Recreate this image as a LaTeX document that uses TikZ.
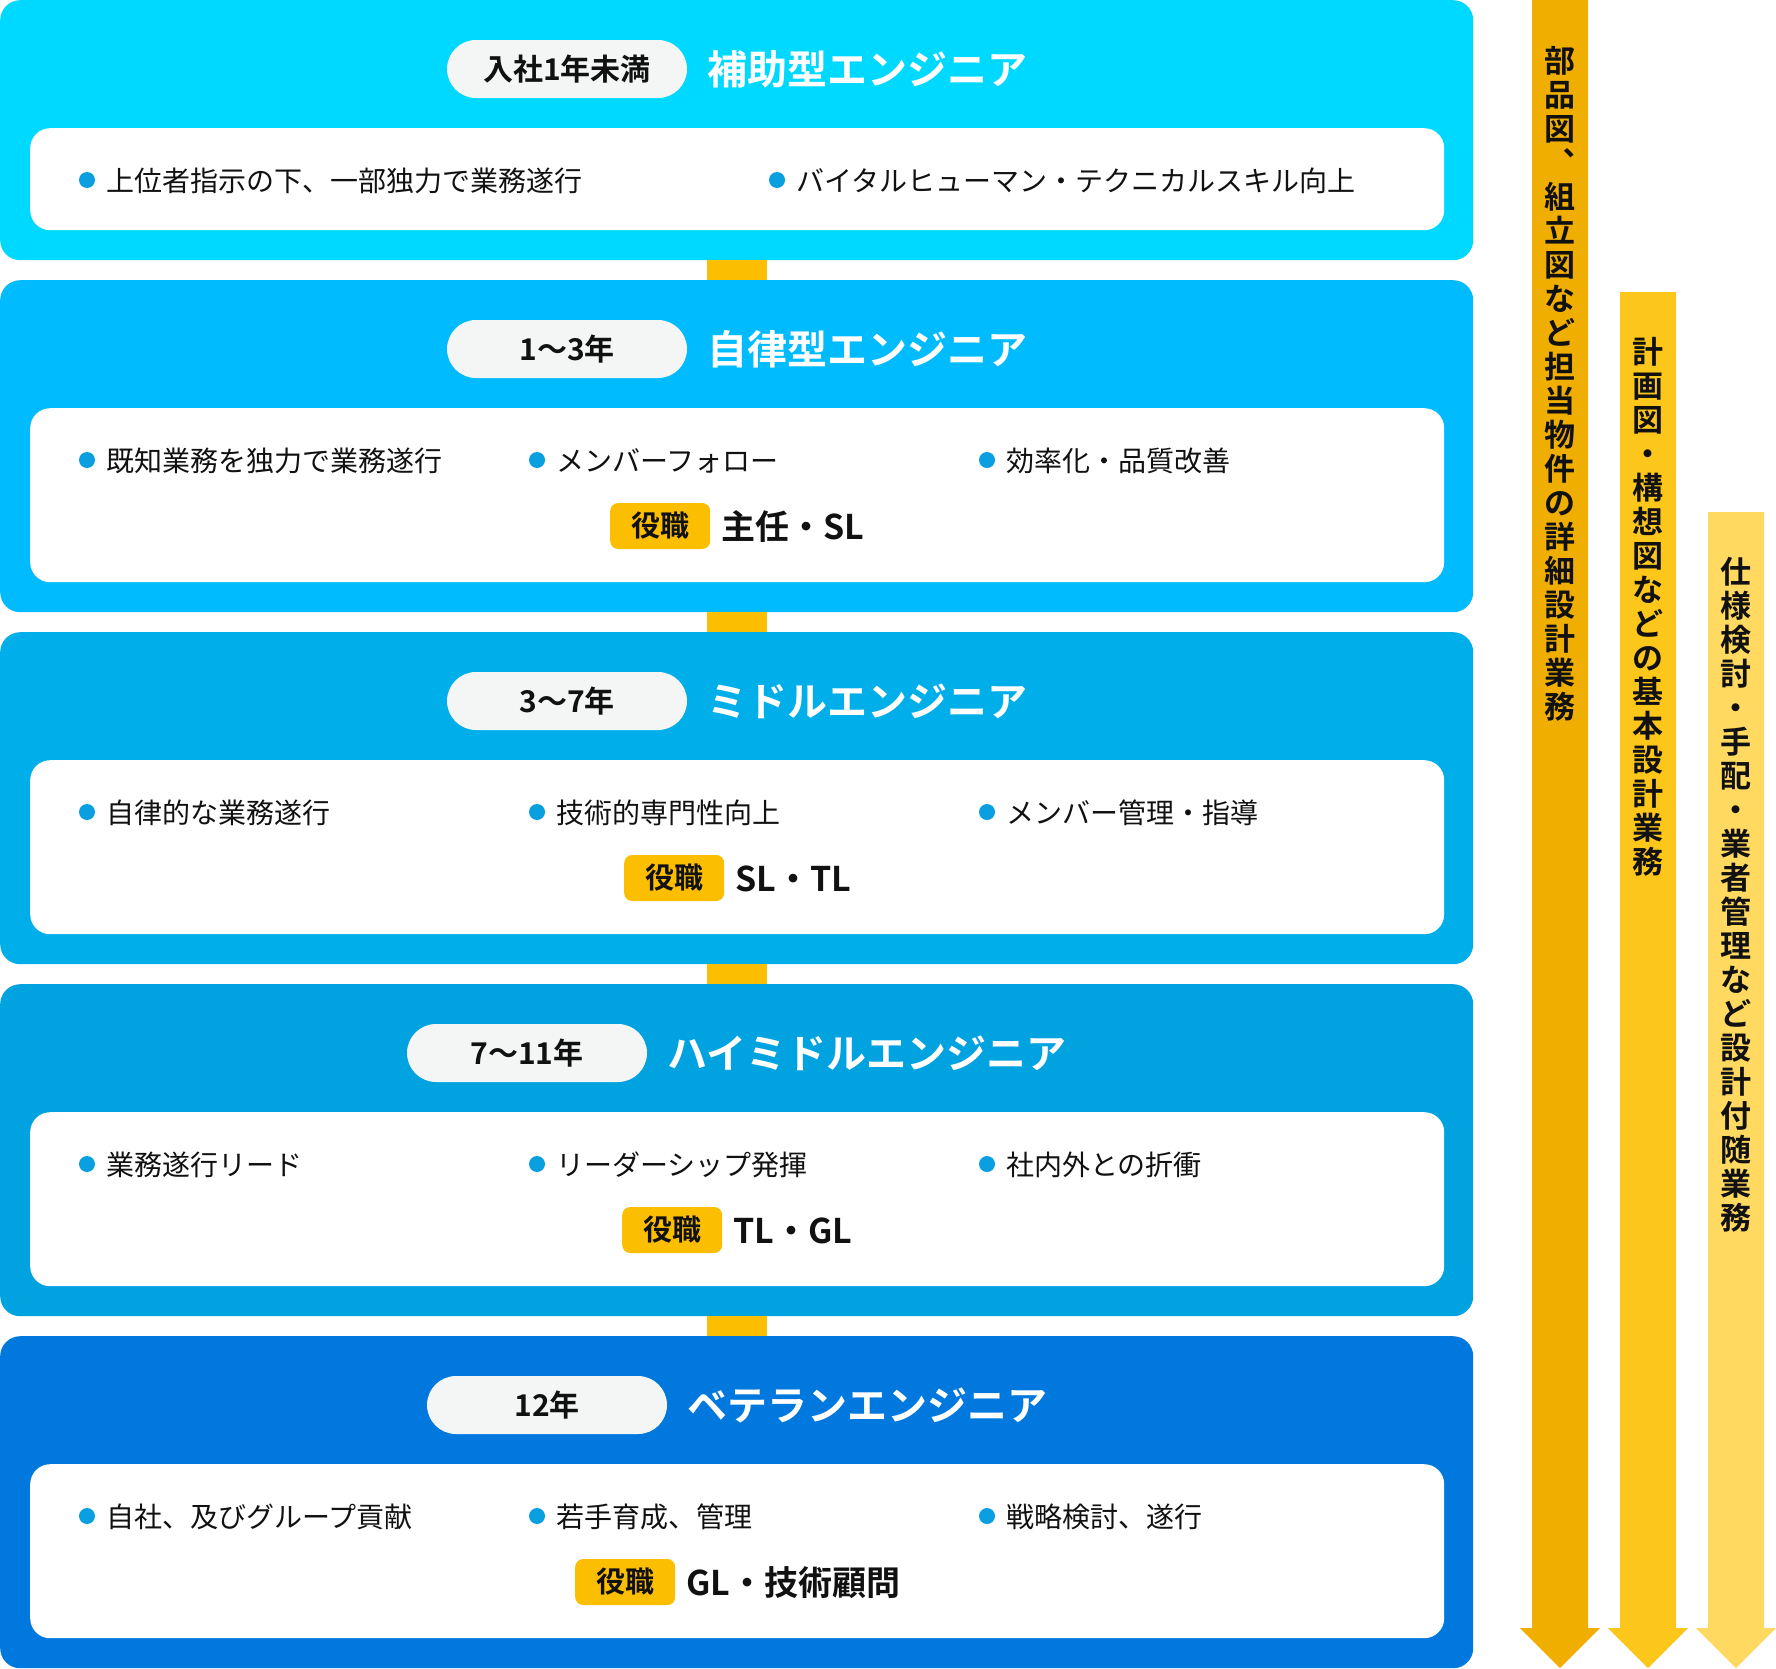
\documentclass[tikz,border=0pt]{standalone}
\usepackage{fontspec}
\setmainfont{Noto Sans CJK JP}[BoldFont={Noto Sans CJK JP Bold}]
\usetikzlibrary{calc}
\definecolor{cA}{HTML}{00D9FF}
\definecolor{cB}{HTML}{00BCFF}
\definecolor{cC}{HTML}{00AEEA}
\definecolor{cD}{HTML}{00A2DF}
\definecolor{cE}{HTML}{0078DD}
\definecolor{pillgray}{HTML}{F4F6F6}
\definecolor{gold}{HTML}{FBBE00}
\definecolor{dotblue}{HTML}{0A9FE0}
\definecolor{arA}{HTML}{F0AF00}
\definecolor{arB}{HTML}{FCC71A}
\definecolor{arC}{HTML}{FFD960}
\definecolor{ink}{HTML}{111111}
\begin{document}
\begin{tikzpicture}[x=1pt,y=-1pt,
  stage/.style={rounded corners=20pt, minimum width=1473pt, anchor=north west, inner sep=0pt, draw=none},
  panel/.style={fill=white, rounded corners=20pt, minimum width=1414pt, anchor=north west, inner sep=0pt},
  pill/.style={fill=pillgray, rounded corners=29pt, minimum width=240pt, minimum height=58pt, inner sep=0pt, text=ink, font=\bfseries\fontsize{30pt}{36pt}\selectfont},
  title/.style={anchor=west, inner sep=0pt, text=white, font=\bfseries\fontsize{40pt}{48pt}\selectfont},
  dot/.style={circle, fill=dotblue, minimum size=16pt, inner sep=0pt},
  item/.style={anchor=west, inner sep=0pt, text=ink, font=\fontsize{28pt}{34pt}\selectfont},
  badge/.style={anchor=west, fill=gold, rounded corners=8pt, minimum width=100pt, minimum height=46pt, inner sep=0pt, text=ink, font=\bfseries\fontsize{29pt}{34pt}\selectfont},
  role/.style={anchor=west, inner sep=0pt, text=ink, font=\bfseries\fontsize{34pt}{40pt}\selectfont},
  conn/.style={draw=gold, line width=60pt},
  vtext/.style={anchor=north, inner sep=0pt, align=center, text=ink, font=\bfseries\fontsize{31pt}{34pt}\selectfont}
]
\useasboundingbox (0,0) rectangle (1776,1668);

% stages
\node[stage, fill=cA, minimum height=260pt] (s1) at (0,0) {};
\node[stage, fill=cB, minimum height=332pt] (s2) at (0,280) {};
\node[stage, fill=cC, minimum height=332pt] (s3) at (0,632) {};
\node[stage, fill=cD, minimum height=332pt] (s4) at (0,984) {};
\node[stage, fill=cE, minimum height=332pt] (s5) at (0,1336) {};

% connectors
\draw[conn] (s1.south) -- (s2.north);
\draw[conn] (s2.south) -- (s3.north);
\draw[conn] (s3.south) -- (s4.north);
\draw[conn] (s4.south) -- (s5.north);

% panels
\node[panel, minimum height=102pt] (w1) at (30,128) {};
\node[panel, minimum height=174pt] (w2) at (30,408) {};
\node[panel, minimum height=174pt] (w3) at (30,760) {};
\node[panel, minimum height=174pt] (w4) at (30,1112) {};
\node[panel, minimum height=174pt] (w5) at (30,1464) {};

% stage 1
\node[pill] (p1) at (567,69) {入社1年未満};
\node[title] (t1) at ($(p1.east)+(20,0)$) {補助型エンジニア};
\node[dot] (d11) at (87,180) {};
\node[item] (i11) at ($(d11)+(19,1)$) {上位者指示の下、一部独力で業務遂行};
\node[dot] (d12) at (777,180) {};
\node[item] (i12) at ($(d12)+(19,1)$) {バイタルヒューマン・テクニカルスキル向上};

% stage 2
\node[pill] (p2) at (567,349) {1〜3年};
\node[title] (t2) at ($(p2.east)+(20,0)$) {自律型エンジニア};
\node[dot] (d21) at (87,460) {};
\node[item] (i21) at ($(d21)+(19,1)$) {既知業務を独力で業務遂行};
\node[dot] (d22) at (537,460) {};
\node[item] (i22) at ($(d22)+(19,1)$) {メンバーフォロー};
\node[dot] (d23) at (987,460) {};
\node[item] (i23) at ($(d23)+(19,1)$) {効率化・品質改善};
\node[badge] (r2) at (610,526) {役職};
\node[role] (q2) at ($(r2.east)+(11,1)$) {主任・SL};

% stage 3
\node[pill] (p3) at (567,701) {3〜7年};
\node[title] (t3) at ($(p3.east)+(20,0)$) {ミドルエンジニア};
\node[dot] (d31) at (87,812) {};
\node[item] (i31) at ($(d31)+(19,1)$) {自律的な業務遂行};
\node[dot] (d32) at (537,812) {};
\node[item] (i32) at ($(d32)+(19,1)$) {技術的専門性向上};
\node[dot] (d33) at (987,812) {};
\node[item] (i33) at ($(d33)+(19,1)$) {メンバー管理・指導};
\node[badge] (r3) at (624,878) {役職};
\node[role] (q3) at ($(r3.east)+(11,1)$) {SL・TL};

% stage 4
\node[pill] (p4) at (527,1053) {7〜11年};
\node[title] (t4) at ($(p4.east)+(20,0)$) {ハイミドルエンジニア};
\node[dot] (d41) at (87,1164) {};
\node[item] (i41) at ($(d41)+(19,1)$) {業務遂行リード};
\node[dot] (d42) at (537,1164) {};
\node[item] (i42) at ($(d42)+(19,1)$) {リーダーシップ発揮};
\node[dot] (d43) at (987,1164) {};
\node[item] (i43) at ($(d43)+(19,1)$) {社内外との折衝};
\node[badge] (r4) at (622,1230) {役職};
\node[role] (q4) at ($(r4.east)+(11,1)$) {TL・GL};

% stage 5
\node[pill] (p5) at (547,1405) {12年};
\node[title] (t5) at ($(p5.east)+(20,0)$) {ベテランエンジニア};
\node[dot] (d51) at (87,1516) {};
\node[item] (i51) at ($(d51)+(19,1)$) {自社、及びグループ貢献};
\node[dot] (d52) at (537,1516) {};
\node[item] (i52) at ($(d52)+(19,1)$) {若手育成、管理};
\node[dot] (d53) at (987,1516) {};
\node[item] (i53) at ($(d53)+(19,1)$) {戦略検討、遂行};
\node[badge] (r5) at (575,1582) {役職};
\node[role] (q5) at ($(r5.east)+(11,1)$) {GL・技術顧問};

% arrows
\fill[arA] (1532,0) -- (1588,0) -- (1588,1628) -- (1600,1628) -- (1560,1668) -- (1520,1628) -- (1532,1628) -- cycle;
\fill[arB] (1620,292) -- (1676,292) -- (1676,1628) -- (1688,1628) -- (1648,1668) -- (1608,1628) -- (1620,1628) -- cycle;
\fill[arC] (1708,512) -- (1764,512) -- (1764,1628) -- (1776,1628) -- (1736,1668) -- (1696,1628) -- (1708,1628) -- cycle;

\node[vtext] (v1) at (1560,46) {部\\品\\図\\︑\\組\\立\\図\\な\\ど\\担\\当\\物\\件\\の\\詳\\細\\設\\計\\業\\務};
\node[vtext] (v2) at (1648,337) {計\\画\\図\\・\\構\\想\\図\\な\\ど\\の\\基\\本\\設\\計\\業\\務};
\node[vtext] (v3) at (1736,557) {仕\\様\\検\\討\\・\\手\\配\\・\\業\\者\\管\\理\\な\\ど\\設\\計\\付\\随\\業\\務};
\end{tikzpicture}
\end{document}
